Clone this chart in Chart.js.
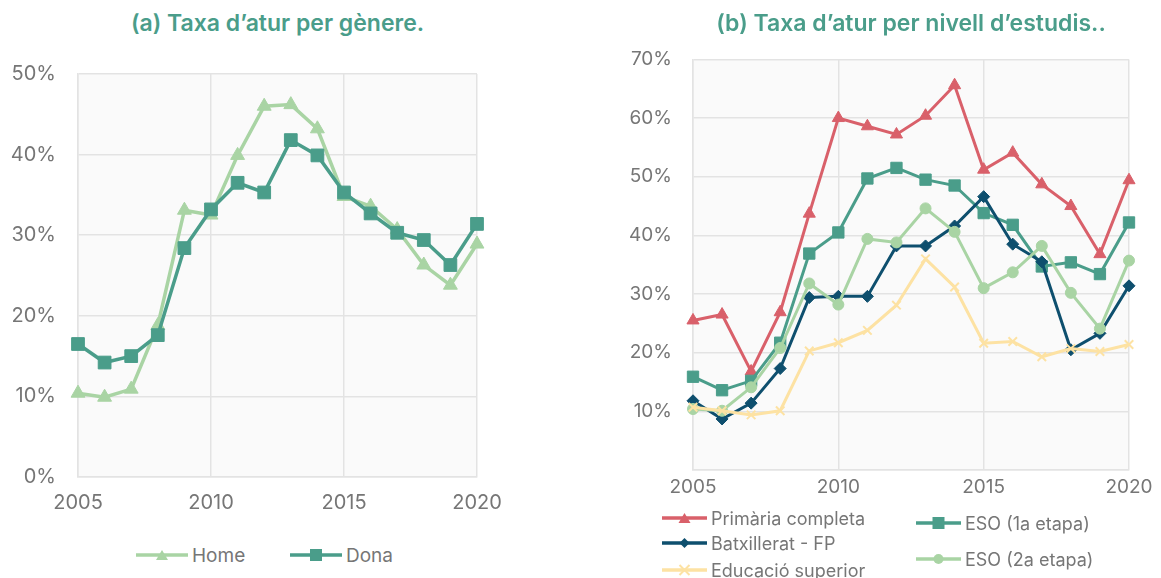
<!DOCTYPE html>
<html>
<head>
<meta charset="utf-8">
<script src="https://cdn.jsdelivr.net/npm/chart.js@4.4.1/dist/chart.umd.min.js"></script>
<style>
  body { margin: 0; width: 1161px; height: 578px; background: #fff; font-family: Inter, sans-serif; overflow: hidden; position: relative; }
  .titol { position: absolute; top: 9px; color: #4a9d8a; font-weight: 600; font-size: 23px; text-align: center; white-space: nowrap; }
  canvas { position: absolute; }
  .lleg { position: absolute; height: 22px; display: flex; align-items: center; color: #767676; font-size: 18px; white-space: nowrap; }
  .lleg svg { margin-right: 4px; }
</style>
</head>
<body>
<canvas id="genere" width="530" height="480" style="left:0;top:40px"></canvas>
<canvas id="estudis" width="561" height="483" style="left:600px;top:27px"></canvas>
<div class="titol" style="left:78px;width:399px">(a) Taxa d’atur per gènere.</div>
<div class="titol" style="left:693px;width:436px">(b) Taxa d’atur per nivell d’estudis..</div>
<div id="llegendes"></div>
<script>
// anys de la sèrie
const anys = [2005, 2006, 2007, 2008, 2009, 2010, 2011, 2012, 2013, 2014, 2015, 2016, 2017, 2018, 2019, 2020];

// (a) taxa d'atur per gènere (%)
const home = [10.4, 9.9, 10.9, 18.8, 33.1, 32.5, 39.9, 46.0, 46.2, 43.2, 34.8, 33.6, 30.7, 26.3, 23.8, 28.9];
const dona = [16.5, 14.2, 15.0, 17.6, 28.4, 33.2, 36.5, 35.3, 41.8, 39.9, 35.3, 32.7, 30.3, 29.4, 26.3, 31.4];

// (b) taxa d'atur per nivell d'estudis (%)
const primaria = [25.5, 26.5, 16.8, 26.9, 43.7, 60.0, 58.6, 57.2, 60.4, 65.6, 51.2, 54.1, 48.7, 45.0, 36.8, 49.4];
const eso1 = [15.9, 13.6, 15.2, 21.7, 36.9, 40.5, 49.7, 51.5, 49.5, 48.5, 43.8, 41.8, 34.7, 35.4, 33.4, 42.2];
const batxillerat = [11.8, 8.7, 11.4, 17.3, 29.4, 29.6, 29.6, 38.2, 38.2, 41.6, 46.6, 38.5, 35.5, 20.5, 23.3, 31.4];
const eso2 = [10.4, 10.1, 14.1, 20.8, 31.8, 28.2, 39.4, 38.8, 44.6, 40.6, 31.0, 33.7, 38.2, 30.2, 24.1, 35.7];
const superior = [10.7, 10.1, 9.4, 10.1, 20.3, 21.7, 23.8, 28.1, 36.0, 31.2, 21.6, 21.9, 19.3, 20.7, 20.2, 21.4];

const gris = '#767676';
const graella = '#e3e3e3';

// fons gris clar de l'àrea del gràfic
const fonsGris = {
  id: 'fonsGris',
  beforeDraw(chart) {
    const { ctx, chartArea: a } = chart;
    ctx.save();
    ctx.fillStyle = '#fafafa';
    ctx.fillRect(a.left, a.top, a.width, a.height);
    ctx.restore();
  }
};

function serie(nom, valors, color, forma, radi, gruix) {
  return {
    label: nom,
    data: anys.map((a, i) => ({ x: a, y: valors[i] })),
    borderColor: color,
    backgroundColor: color,
    borderWidth: gruix,
    pointStyle: forma,
    pointRadius: radi,
    pointHoverRadius: radi,
    pointBorderWidth: forma === 'crossRot' ? 2 : 1,
    pointBackgroundColor: color,
    pointBorderColor: color,
    tension: 0,
    clip: false
  };
}

function crearGrafic(id, datasets, maxY, c) {
  new Chart(document.getElementById(id), {
    type: 'line',
    data: { datasets: datasets },
    plugins: [fonsGris],
    options: {
      responsive: false,
      animation: false,
      devicePixelRatio: 1,
      layout: { padding: { top: c.dalt, right: c.dreta, left: 0, bottom: 0 } },
      plugins: { legend: { display: false }, tooltip: { enabled: false } },
      scales: {
        x: {
          type: 'linear', min: 2005, max: 2020,
          afterFit: s => { s.height = c.altX; },
          grid: { color: graella, lineWidth: 1.5, drawTicks: false },
          border: { color: graella, width: 1.5 },
          ticks: { stepSize: 5, color: gris, font: { family: 'Inter', size: c.mida }, padding: c.padX, callback: v => String(v), maxRotation: 0 }
        },
        y: {
          min: 0, max: maxY,
          afterFit: s => { s.width = c.ampleY; },
          grid: { color: graella, lineWidth: 1.5, drawTicks: false },
          border: { color: graella, width: 1.5 },
          ticks: { stepSize: 10, color: gris, font: { family: 'Inter', size: c.mida }, padding: c.padY,
            callback: v => (c.amagaZero && v === 0) ? '' : v + '%' }
        }
      }
    }
  });
}

crearGrafic('genere', [
  serie('Dona', dona, '#4a9d8a', 'rect', 9, 3.5),
  serie('Home', home, '#a9d4a4', 'triangle', 8, 3.5)
], 50, { dalt: 14, dreta: 53, altX: 43, ampleY: 78, mida: 20, padX: 14, padY: 22, amagaZero: false });

crearGrafic('estudis', [
  serie('Educació superior', superior, '#fde2a3', 'crossRot', 6, 3),
  serie('ESO (2a etapa)', eso2, '#a9d4a4', 'circle', 5.5, 3),
  serie('Batxillerat - FP', batxillerat, '#0e4f6e', 'rectRot', 6, 3),
  serie('ESO (1a etapa)', eso1, '#4a9d8a', 'rect', 8, 3),
  serie('Primària completa', primaria, '#d9606a', 'triangle', 7, 3)
], 70, { dalt: 19, dreta: 32, altX: 40, ampleY: 93, mida: 19, padX: 6, padY: 21, amagaZero: true });

// llegendes
function mostra(color, forma, ample) {
  const m = ample / 2;
  let marca = '';
  if (forma === 'triangle') marca = `<polygon points="${m},3 ${m + 6},13 ${m - 6},13" fill="${color}"/>`;
  if (forma === 'rect') marca = `<rect x="${m - 6}" y="2" width="12" height="12" fill="${color}"/>`;
  if (forma === 'rectRot') marca = `<polygon points="${m},3 ${m + 5},8 ${m},13 ${m - 5},8" fill="${color}"/>`;
  if (forma === 'circle') marca = `<circle cx="${m}" cy="8" r="5" fill="${color}"/>`;
  if (forma === 'crossRot') marca = `<path d="M${m - 5} 3 L${m + 5} 13 M${m + 5} 3 L${m - 5} 13" stroke="${color}" stroke-width="2"/>`;
  return `<svg width="${ample}" height="16"><line x1="0" y1="8" x2="${ample}" y2="8" stroke="${color}" stroke-width="3.5"/>${marca}</svg>`;
}

const llegendes = [
  { nom: 'Home', color: '#a9d4a4', forma: 'triangle', x: 136, y: 555, ample: 52, mida: 19 },
  { nom: 'Dona', color: '#4a9d8a', forma: 'rect', x: 290, y: 555, ample: 52, mida: 19 },
  { nom: 'Primària completa', color: '#d9606a', forma: 'triangle', x: 662, y: 518, ample: 45, mida: 18 },
  { nom: 'Batxillerat - FP', color: '#0e4f6e', forma: 'rectRot', x: 662, y: 543, ample: 45, mida: 18 },
  { nom: 'Educació superior', color: '#fde2a3', forma: 'crossRot', x: 662, y: 570, ample: 45, mida: 18 },
  { nom: 'ESO (1a etapa)', color: '#4a9d8a', forma: 'rect', x: 916, y: 523, ample: 45, mida: 18 },
  { nom: 'ESO (2a etapa)', color: '#a9d4a4', forma: 'circle', x: 916, y: 559, ample: 45, mida: 18 }
];
document.getElementById('llegendes').innerHTML = llegendes.map(l =>
  `<div class="lleg" style="left:${l.x}px;top:${l.y - 11}px;font-size:${l.mida}px">${mostra(l.color, l.forma, l.ample)}${l.nom}</div>`
).join('');
</script>
</body>
</html>
